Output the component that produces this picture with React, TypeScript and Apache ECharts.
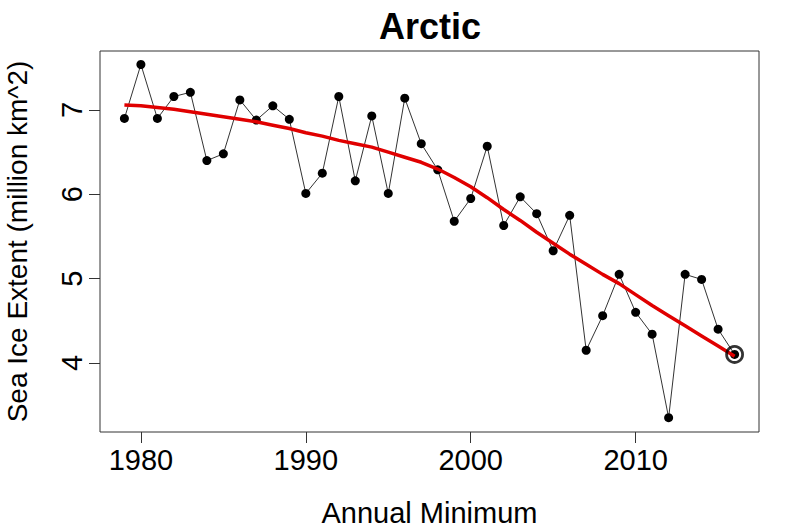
import React, { useEffect, useRef } from "react";
import * as echarts from "echarts";

const years = [
  1979, 1980, 1981, 1982, 1983, 1984, 1985, 1986, 1987, 1988, 1989, 1990, 1991,
  1992, 1993, 1994, 1995, 1996, 1997, 1998, 1999, 2000, 2001, 2002, 2003, 2004,
  2005, 2006, 2007, 2008, 2009, 2010, 2011, 2012, 2013, 2014, 2015, 2016,
];

const extent = [
  6.9, 7.54, 6.9, 7.16, 7.21, 6.4, 6.48, 7.12, 6.88, 7.05, 6.89, 6.01, 6.25,
  7.16, 6.16, 6.93, 6.01, 7.14, 6.6, 6.29, 5.68, 5.95, 6.57, 5.63, 5.97, 5.77,
  5.33, 5.75, 4.15, 4.56, 5.05, 4.6, 4.34, 3.35, 5.05, 4.99, 4.4, 4.1,
];

const smooth = [
  7.06, 7.05, 7.03, 7.01, 6.98, 6.95, 6.92, 6.89, 6.86, 6.82, 6.78, 6.73, 6.69,
  6.64, 6.6, 6.56, 6.5, 6.44, 6.38, 6.3, 6.2, 6.09, 5.96, 5.82, 5.69, 5.55,
  5.42, 5.29, 5.17, 5.05, 4.94, 4.81, 4.68, 4.56, 4.44, 4.32, 4.2, 4.08,
];

const xTicks = [1980, 1990, 2000, 2010];
const yTicks = [4, 5, 6, 7];

const FONT = "'Liberation Sans', Arial, sans-serif";

export default function App() {
  const ref = useRef<HTMLDivElement>(null);
  useEffect(() => {
    if (!ref.current) return;
    const chart = echarts.init(ref.current, undefined, { renderer: "svg" });
    const pts = years.map((y, i) => [y, extent[i]]);
    const sm = years.map((y, i) => [y, smooth[i]]);
    const last = [pts[pts.length - 1]];
    chart.setOption({
      animation: false,
      backgroundColor: "#ffffff",
      grid: {
        left: 100,
        right: 41,
        top: 51,
        bottom: 99,
        show: true,
        borderColor: "#333",
        borderWidth: 1,
        backgroundColor: "transparent",
        containLabel: false,
        outerBoundsMode: "none",
      },
      graphic: [
        {
          type: "text",
          x: 430,
          y: 26,
          style: {
            text: "Arctic",
            font: `bold 36px ${FONT}`,
            fill: "#000",
            textAlign: "center",
            textVerticalAlign: "middle",
          },
        },
      ],
      xAxis: {
        type: "value",
        min: 1977.52,
        max: 2017.48,
        name: "Annual Minimum",
        nameLocation: "middle",
        nameGap: 66,
        nameTextStyle: { fontSize: 29, fontFamily: FONT, color: "#000" },
        axisLine: { show: false },
        splitLine: { show: false },
        axisTick: {
          show: true,
          length: 11,
          customValues: xTicks,
          lineStyle: { color: "#333", width: 1 },
        },
        axisLabel: {
          customValues: xTicks,
          formatter: (v: number) => String(v),
          fontSize: 29,
          fontFamily: FONT,
          color: "#000",
          margin: 13,
        },
      },
      yAxis: {
        type: "value",
        min: 3.18,
        max: 7.7,
        name: "Sea Ice Extent (million km^2)",
        nameLocation: "middle",
        nameRotate: 90,
        nameGap: 69,
        nameTextStyle: { fontSize: 28, fontFamily: FONT, color: "#000" },
        axisLine: { show: false },
        splitLine: { show: false },
        axisTick: {
          show: true,
          length: 11,
          customValues: yTicks,
          lineStyle: { color: "#333", width: 1 },
        },
        axisLabel: {
          customValues: yTicks,
          formatter: (v: number) => String(v),
          rotate: 90,
          fontSize: 29,
          fontFamily: FONT,
          color: "#000",
          margin: 14,
        },
      },
      series: [
        {
          type: "line",
          data: pts,
          symbol: "circle",
          symbolSize: 9,
          itemStyle: { color: "#000" },
          lineStyle: { color: "#333", width: 1 },
          z: 2,
        },
        {
          type: "line",
          data: sm,
          symbol: "none",
          lineStyle: { color: "#e00000", width: 3.5 },
          z: 3,
        },
        {
          type: "scatter",
          data: last,
          symbol: "circle",
          symbolSize: 16,
          itemStyle: {
            color: "transparent",
            borderColor: "#000",
            borderWidth: 2.8,
          },
          z: 4,
        },
      ],
    });
    return () => chart.dispose();
  }, []);
  return (
    <div
      ref={ref}
      style={{ position: "fixed", left: 0, top: 0, width: 800, height: 531 }}
    />
  );
}
